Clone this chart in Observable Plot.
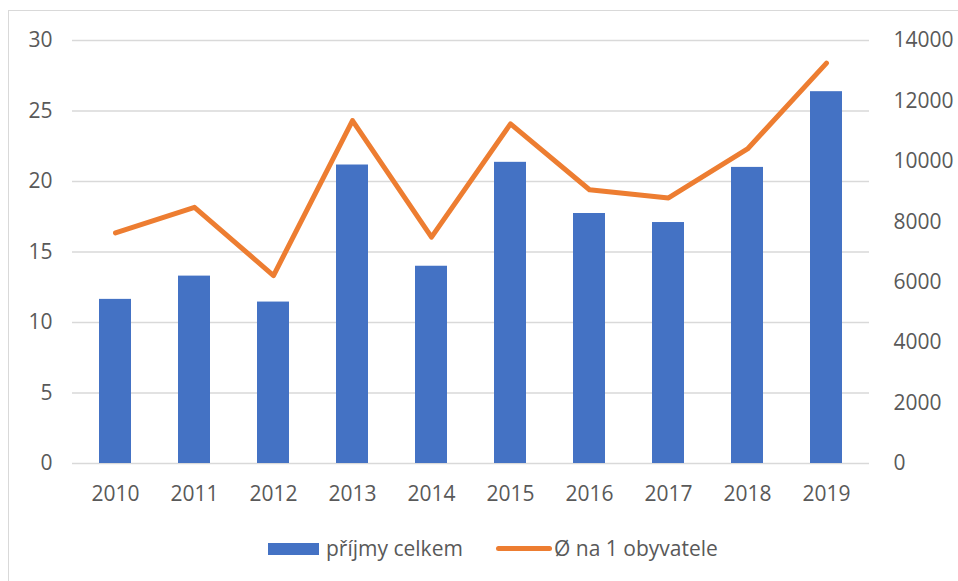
<!DOCTYPE html>
<html>
<head>
<meta charset="utf-8">
<script src="https://cdn.jsdelivr.net/npm/d3@7"></script>
<script src="https://cdn.jsdelivr.net/npm/@observablehq/plot@0.6"></script>
<style>
  html, body { margin: 0; padding: 0; background: #fff; }
  #wrap { position: relative; width: 958px; height: 581px; overflow: hidden; font-family: "Open Sans", sans-serif; }
  #frame { position: absolute; left: 8px; top: 10px; width: 2000px; height: 2000px; border-left: 1.5px solid #d9d9d9; border-top: 1.5px solid #d9d9d9; }
  #chart { position: absolute; left: 0; top: 0; }
  .leg { position: absolute; top: 534px; font-size: 21px; color: #595959; line-height: 28px; white-space: nowrap; }
</style>
</head>
<body>
<div id="wrap">
  <div id="frame"></div>
  <div id="chart"></div>
  <div id="legend"></div>
</div>
<script>
const years = ["2010","2011","2012","2013","2014","2015","2016","2017","2018","2019"];
const prijmyCelkem = [11.64, 13.29, 11.45, 21.17, 13.99, 21.36, 17.73, 17.09, 21.0, 26.37];
const naObyvatele = [7630, 8480, 6220, 11350, 7490, 11240, 9060, 8790, 10410, 13250];
const leftTicks = [0, 5, 10, 15, 20, 25, 30];
const rightTicks = [0, 2000, 4000, 6000, 8000, 10000, 12000, 14000];
const seriesNames = ["příjmy celkem", "Ø na 1 obyvatele"];
const colors = ["#4472C4", "#ED7D31"];

const leftMax = 30, rightMax = 14000;
const k = leftMax / rightMax;

const barData = years.map((y, i) => ({year: y, value: prijmyCelkem[i]}));
const lineData = years.map((y, i) => ({year: y, value: naObyvatele[i] * k}));

const chart = Plot.plot({
  width: 958,
  height: 520,
  marginLeft: 72,
  marginRight: 89,
  marginTop: 40,
  marginBottom: 57,
  style: {fontFamily: "Open Sans, sans-serif", fontSize: "21px", color: "#595959", background: "transparent"},
  x: {domain: years, paddingInner: 0.6, paddingOuter: 0.3, label: null},
  y: {domain: [0, leftMax], label: null},
  marks: [
    Plot.gridY(leftTicks, {stroke: "#d9d9d9", strokeOpacity: 1, strokeWidth: 1.5}),
    Plot.axisY(leftTicks, {anchor: "left", tickSize: 0, tickPadding: 20, label: null, fill: "#595959"}),
    Plot.axisY(rightTicks.map(v => v * k), {anchor: "right", tickSize: 0, tickPadding: 24, label: null, fill: "#595959",
      tickFormat: d => String(Math.round(d / k)), textAnchor: "start"}),
    Plot.axisX({tickSize: 0, tickPadding: 23, label: null, fill: "#595959"}),
    Plot.barY(barData, {x: "year", y: "value", fill: colors[0]}),
    Plot.line(lineData, {x: "year", y: "value", stroke: colors[1], strokeWidth: 5, strokeLinecap: "round", strokeLinejoin: "round"})
  ]
});
document.getElementById("chart").appendChild(chart);

const legend = document.getElementById("legend");
legend.innerHTML = `
  <div style="position:absolute;left:268px;top:543px;width:51px;height:12px;background:${colors[0]}"></div>
  <div class="leg" style="left:326px">${seriesNames[0]}</div>
  <div style="position:absolute;left:496px;top:546px;width:56px;height:5px;border-radius:3px;background:${colors[1]}"></div>
  <div class="leg" style="left:554px">${seriesNames[1]}</div>
`;
</script>
</body>
</html>
